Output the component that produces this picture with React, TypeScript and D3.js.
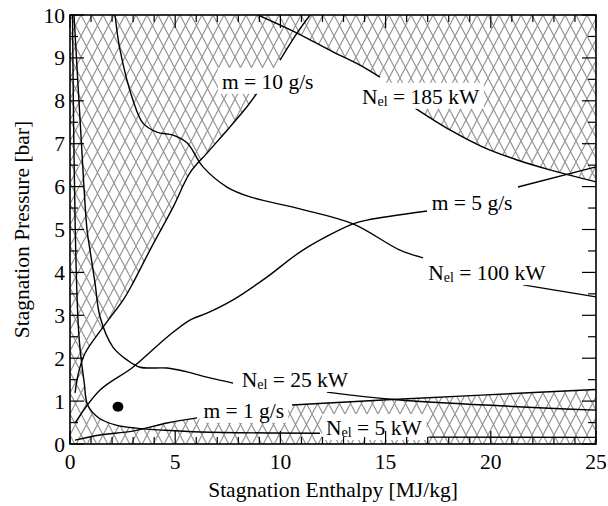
import React, { useEffect, useRef } from "react";
import * as d3 from "d3";

type Pt = [number, number];

// ---- data (Stagnation enthalpy [MJ/kg], stagnation pressure [bar]) ----
const xTickValues = [0, 5, 10, 15, 20, 25];
const yTickValues = [0, 1, 2, 3, 4, 5, 6, 7, 8, 9, 10];

const nel185: Pt[] = [[8.94, 10], [10.79, 9.58], [12.5, 9.14], [13.78, 8.83], [14.73, 8.55], [16.4, 7.83], [18.06, 7.32], [19.63, 6.92], [21.25, 6.62], [22.81, 6.39], [25, 6.11]];
const nel100: Pt[] = [[2.14, 10], [2.38, 9.18], [2.99, 8.02], [3.47, 7.48], [4.13, 7.27], [4.9, 7.2], [5.56, 7.02], [6.32, 6.46], [7.46, 5.99], [8.56, 5.76], [10.93, 5.48], [13.45, 5.13], [15.68, 4.52], [16.78, 4.34], [21.53, 3.71], [25, 3.43]];
const nel25: Pt[] = [[0.19, 10], [0.48, 7.55], [0.81, 4.99], [0.95, 4.52], [1.19, 3.75], [1.43, 2.96], [2.04, 2.26], [2.71, 1.96], [3.33, 1.79], [4.61, 1.77], [5.56, 1.68], [6.65, 1.54], [7.75, 1.42], [12.21, 1.21], [15.54, 1.03], [25, 0.79]];
const nel5: Pt[] = [[0.12, 10], [0.17, 7.5], [0.25, 5], [0.33, 3.5], [0.44, 2.42], [0.68, 1.41], [0.84, 0.91], [1.39, 0.6], [2.19, 0.44], [3.14, 0.37], [4.5, 0.32], [6.2, 0.28], [11.88, 0.25], [17.03, 0.16], [25, 0.155]];
const mdot1: Pt[] = [[0.24, 0.09], [1.43, 0.21], [2.99, 0.3], [4.61, 0.49], [6.04, 0.61], [10.55, 0.91], [15.07, 1.03], [25, 1.27]];
const mdot5: Pt[] = [[0.24, 0.49], [1.43, 1.26], [2.99, 1.79], [4.61, 2.49], [5.7, 2.89], [6.51, 3.05], [7.75, 3.36], [9.36, 3.89], [11.07, 4.52], [13.45, 5.13], [14.12, 5.22], [16.97, 5.43], [21.29, 5.99], [25, 6.46]];
const mdot10: Pt[] = [[0.24, 1.19], [0.4, 1.65], [0.71, 2.11], [1.58, 2.73], [2.53, 3.36], [2.99, 3.75], [3.8, 4.52], [4.9, 5.52], [5.7, 6.32], [6.51, 6.78], [7.6, 7.39], [8.41, 7.86], [8.89, 8.18], [9.98, 8.95], [10.79, 9.58], [11.41, 10]];

// line breaks (enthalpy range) where labels sit
const curves: { pts: Pt[]; gap: [number, number] }[] = [
  { pts: nel185, gap: [14.73, 16.4] },
  { pts: nel100, gap: [16.78, 21.53] },
  { pts: nel25, gap: [7.75, 12.21] },
  { pts: nel5, gap: [11.88, 17.03] },
  { pts: mdot1, gap: [6.04, 10.55] },
  { pts: mdot5, gap: [16.97, 21.29] },
  { pts: mdot10, gap: [8.89, 9.98] },
];

const labelMain = ["m = 10 g/s", "N", "m = 5 g/s", "N", "N", "m = 1 g/s", "N"];
const labelSub = ["", "el", "", "el", "el", "", "el"];
const labelRest = ["", " = 185 kW", "", " = 100 kW", " = 25 kW", "", " = 5 kW"];
const labelX = [7.22, 13.88, 17.19, 17.03, 8.16, 6.34, 12.17];
const labelY = [8.28, 7.93, 5.45, 3.82, 1.33, 0.61, 0.21];

const operatingPoint: Pt = [2.28, 0.87];

const FONT = "'Liberation Serif', 'Times New Roman', serif";

export default function App() {
  const ref = useRef<SVGSVGElement>(null);

  useEffect(() => {
    const svg = d3.select(ref.current!);
    svg.selectAll("*").remove();

    const x = d3.scaleLinear().domain([0, 25]).range([70, 596]);
    const y = d3.scaleLinear().domain([0, 10]).range([444, 15]);
    const X0 = x(0), X1 = x(25), Y0 = y(0), Y1 = y(10);

    const line = d3
      .line<Pt>()
      .x((d) => x(d[0]))
      .y((d) => y(d[1]))
      .curve(d3.curveCatmullRom.alpha(0.5));

    const defs = svg.append("defs");
    const HW = 11, HH = 21;
    const pat = defs
      .append("pattern")
      .attr("id", "hatch")
      .attr("patternUnits", "userSpaceOnUse")
      .attr("width", HW)
      .attr("height", HH)
      .attr("x", X0)
      .attr("y", Y1);
    pat
      .append("path")
      .attr("d", `M0,0L${HW},${HH}M${HW},0L0,${HH}`)
      .attr("stroke", "#949494")
      .attr("stroke-width", 1.2)
      .attr("fill", "none");

    defs.append("clipPath").attr("id", "plotClip").append("rect")
      .attr("x", X0).attr("y", Y1).attr("width", X1 - X0).attr("height", Y0 - Y1);

    const P = (v: Pt) => `${x(v[0])},${y(v[1])}`;
    defs.append("clipPath").attr("id", "cN185").append("path")
      .attr("d", line(nel185) + `L${P([25, 0])}L${P([0, 0])}L${P([0, 10])}Z`);
    defs.append("clipPath").attr("id", "cM1").append("path")
      .attr("d", line(mdot1) + `L${P([25, 10])}L${P([0, 10])}L${P([0, mdot1[0][1]])}Z`);
    defs.append("clipPath").attr("id", "cM10").append("path")
      .attr("d", line(mdot10) + `L${P([25, 10])}L${P([25, 0])}L${P([mdot10[0][0], 0])}Z`);
    defs.append("clipPath").attr("id", "cN5").append("path")
      .attr("d", line(nel5) + `L${P([25, 10])}Z`);

    // hatched background
    svg.append("rect")
      .attr("x", X0).attr("y", Y1).attr("width", X1 - X0).attr("height", Y0 - Y1)
      .attr("fill", "url(#hatch)");

    // feasible (white) region
    svg.append("g").attr("clip-path", "url(#cN185)")
      .append("g").attr("clip-path", "url(#cM1)")
      .append("g").attr("clip-path", "url(#cM10)")
      .append("rect")
      .attr("clip-path", "url(#cN5)")
      .attr("x", X0).attr("y", Y1).attr("width", X1 - X0).attr("height", Y0 - Y1)
      .attr("fill", "#fff");

    // curves
    const cg = svg.append("g").attr("clip-path", "url(#plotClip)");
    curves.forEach((c) => {
      const a = c.pts.filter((p) => p[0] <= c.gap[0]);
      const b = c.pts.filter((p) => p[0] >= c.gap[1]);
      [a, b].forEach((seg) => {
        if (seg.length < 2) return;
        cg.append("path")
          .attr("d", line(seg))
          .attr("fill", "none")
          .attr("stroke", "#000")
          .attr("stroke-width", 1.4);
      });
    });

    // operating point
    svg.append("ellipse")
      .attr("cx", x(operatingPoint[0]))
      .attr("cy", y(operatingPoint[1]))
      .attr("rx", 5.4)
      .attr("ry", 5)
      .attr("fill", "#000");

    // labels with white boxes
    labelMain.forEach((m, i) => {
      const g = svg.append("g");
      const rect = g.append("rect").attr("fill", "#fff");
      const t = g.append("text")
        .attr("x", x(labelX[i]))
        .attr("y", y(labelY[i]))
        .attr("font-family", FONT)
        .attr("font-size", 21.5)
        .attr("fill", "#000");
      t.append("tspan").text(m);
      if (labelSub[i]) {
        t.append("tspan").attr("font-size", 14).attr("dy", 2).text(labelSub[i]);
        t.append("tspan").attr("dy", -2).text(labelRest[i]);
      }
      const bb = (t.node() as SVGTextElement).getBBox();
      rect.attr("x", bb.x - 4).attr("y", bb.y - 2).attr("width", bb.width + 8).attr("height", bb.height + 2);
    });

    // frame
    svg.append("rect")
      .attr("x", X0).attr("y", Y1).attr("width", X1 - X0).attr("height", Y0 - Y1)
      .attr("fill", "none").attr("stroke", "#000").attr("stroke-width", 1.6);

    // ticks
    const tg = svg.append("g").attr("stroke", "#000").attr("stroke-width", 1.2);
    d3.range(0, 26, 1).forEach((v) => {
      const len = v % 5 === 0 ? 13 : 7;
      tg.append("line").attr("x1", x(v)).attr("x2", x(v)).attr("y1", Y0).attr("y2", Y0 - len);
      tg.append("line").attr("x1", x(v)).attr("x2", x(v)).attr("y1", Y1).attr("y2", Y1 + len);
    });
    d3.range(0, 10.01, 0.5).forEach((v) => {
      const len = Math.abs(v - Math.round(v)) < 1e-6 ? 14 : 8;
      tg.append("line").attr("y1", y(v)).attr("y2", y(v)).attr("x1", X0).attr("x2", X0 + len);
      tg.append("line").attr("y1", y(v)).attr("y2", y(v)).attr("x1", X1).attr("x2", X1 - len);
    });

    // tick labels
    xTickValues.forEach((v) => {
      svg.append("text")
        .attr("x", x(v)).attr("y", 469)
        .attr("text-anchor", "middle")
        .attr("font-family", FONT).attr("font-size", 21.5)
        .text(String(v));
    });
    yTickValues.forEach((v) => {
      svg.append("text")
        .attr("x", 65).attr("y", y(v))
        .attr("dy", "0.35em")
        .attr("text-anchor", "end")
        .attr("font-family", FONT).attr("font-size", 21.5)
        .text(String(v));
    });

    // axis titles
    svg.append("text")
      .attr("x", (X0 + X1) / 2).attr("y", 497)
      .attr("text-anchor", "middle")
      .attr("font-family", FONT).attr("font-size", 21.5)
      .text("Stagnation Enthalpy [MJ/kg]");
    svg.append("text")
      .attr("transform", `translate(29,${(Y0 + Y1) / 2}) rotate(-90)`)
      .attr("text-anchor", "middle")
      .attr("font-family", FONT).attr("font-size", 21.5)
      .text("Stagnation Pressure [bar]");
  }, []);

  return (
    <svg
      ref={ref}
      width={608}
      height={506}
      style={{ position: "absolute", left: 0, top: 0, background: "#fff" }}
    />
  );
}
